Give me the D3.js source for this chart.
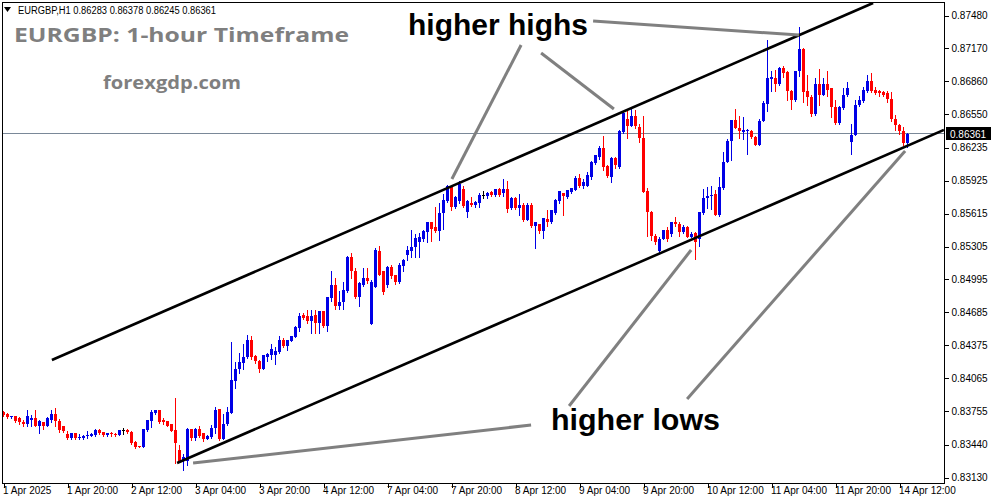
<!DOCTYPE html>
<html><head><meta charset="utf-8">
<script src="https://cdn.jsdelivr.net/npm/d3@7/dist/d3.min.js"></script>
<style>html,body{margin:0;padding:0;background:#fff;} svg{display:block;}</style>
</head><body>
<svg id="c" width="991" height="501"></svg>
<script>
// ---------- data ----------
const symbolName = "EURGBP,H1";
const chartTitle = "EURGBP: 1-hour Timeframe";
const siteName = "forexgdp.com";
const xTickBars = [0,16,32,48,64,80,96,112,128,144,160,176,192,208,224];
const xTickLabels = ["1 Apr 2025","1 Apr 20:00","2 Apr 12:00","3 Apr 04:00","3 Apr 20:00","4 Apr 12:00","7 Apr 04:00","7 Apr 20:00","8 Apr 12:00","9 Apr 04:00","9 Apr 20:00","10 Apr 12:00","11 Apr 04:00","11 Apr 20:00","14 Apr 12:00"];
const yTickValues = [0.87480,0.87170,0.86860,0.86550,0.86235,0.85925,0.85615,0.85305,0.84995,0.84685,0.84375,0.84065,0.83755,0.83440,0.83130];

const openP = [
0.83746,0.83732,0.83701,0.83713,0.83688,0.83657,0.83638,0.83669,0.83688,0.83612,
0.83657,0.83619,0.83669,0.83732,0.83663,0.83612,0.83544,0.83503,0.83550,0.83500,
0.83506,0.83519,0.83525,0.83532,0.83575,0.83556,0.83532,0.83550,0.83544,0.83532,
0.83575,0.83575,0.83563,0.83462,0.83431,0.83419,0.83581,0.83659,0.83738,0.83763,
0.83675,0.83663,0.83631,0.83575,0.83393,0.83287,0.83287,0.83588,0.83500,0.83591,
0.83547,0.83491,0.83509,0.83597,0.83772,0.83497,0.83635,0.83741,0.84043,0.84150,
0.84212,0.84269,0.84427,0.84278,0.84231,0.84156,0.84269,0.84288,0.84288,0.84307,
0.84420,0.84370,0.84413,0.84457,0.84533,0.84658,0.84646,0.84608,0.84658,0.84583,
0.84693,0.84561,0.84818,0.84938,0.84749,0.84780,0.84890,0.85204,0.85079,0.84834,
0.84947,0.85004,0.84577,0.84928,0.85267,0.85070,0.84938,0.85110,0.85032,0.84969,
0.85126,0.85229,0.85267,0.85305,0.85349,0.85377,0.85440,0.85531,0.85487,0.85455,
0.85619,0.85732,0.85870,0.85675,0.85738,0.85845,0.85628,0.85719,0.85697,0.85713,
0.85788,0.85776,0.85815,0.85794,0.85845,0.85807,0.85851,0.85669,0.85757,0.85669,
0.85694,0.85556,0.85694,0.85500,0.85518,0.85449,0.85568,0.85531,0.85625,0.85732,
0.85807,0.85773,0.85817,0.85841,0.85948,0.85873,0.85879,0.85955,0.86093,0.86143,
0.86237,0.86061,0.85961,0.86134,0.86049,0.86381,0.86507,0.86444,0.86538,0.86432,
0.86331,0.85829,0.85628,0.85408,0.85258,0.85377,0.85465,0.85421,0.85534,0.85521,
0.85446,0.85484,0.85396,0.85434,0.85377,0.85622,0.85766,0.85779,0.85804,0.85597,
0.85854,0.86099,0.86294,0.86494,0.86425,0.86387,0.86390,0.86397,0.86334,0.86259,
0.86491,0.86648,0.86880,0.86893,0.86837,0.86987,0.86950,0.86767,0.86680,0.86956,
0.87169,0.86767,0.86711,0.86548,0.86837,0.86736,0.86837,0.86793,0.86623,0.86466,
0.86611,0.86730,0.86291,0.86359,0.86636,0.86673,0.86767,0.86862,0.86774,0.86767,
0.86755,0.86748,0.86698,0.86510,0.86447,0.86397,0.86283];

const highP = [
0.83760,0.83741,0.83713,0.83713,0.83701,0.83669,0.83763,0.83720,0.83763,0.83675,
0.83657,0.83701,0.83763,0.83789,0.83682,0.83612,0.83569,0.83553,0.83550,0.83537,
0.83532,0.83569,0.83550,0.83588,0.83588,0.83563,0.83553,0.83563,0.83550,0.83575,
0.83600,0.83588,0.83569,0.83475,0.83431,0.83588,0.83675,0.83763,0.83769,0.83763,
0.83688,0.83663,0.83631,0.83877,0.83437,0.83349,0.83600,0.83588,0.83600,0.83616,
0.83553,0.83528,0.83628,0.83798,0.83779,0.83729,0.83792,0.84408,0.84219,0.84300,
0.84389,0.84470,0.84464,0.84288,0.84238,0.84288,0.84300,0.84389,0.84357,0.84464,
0.84439,0.84420,0.84464,0.84558,0.84677,0.84677,0.84709,0.84709,0.84709,0.84702,
0.84702,0.84834,0.85070,0.85010,0.84890,0.84969,0.85217,0.85242,0.85104,0.84972,
0.85098,0.85098,0.84985,0.85292,0.85311,0.85079,0.85126,0.85135,0.85041,0.85154,
0.85192,0.85314,0.85462,0.85424,0.85430,0.85465,0.85540,0.85540,0.85681,0.85713,
0.85801,0.85883,0.85879,0.85785,0.85926,0.85870,0.85747,0.85769,0.85733,0.85813,
0.85832,0.85818,0.85827,0.85851,0.85856,0.85945,0.85920,0.85771,0.85771,0.85801,
0.85710,0.85713,0.85713,0.85536,0.85521,0.85578,0.85650,0.85650,0.85750,0.85827,
0.85810,0.85841,0.85860,0.85973,0.85986,0.85945,0.86002,0.86114,0.86171,0.86249,
0.86350,0.86068,0.86150,0.86152,0.86406,0.86582,0.86582,0.86620,0.86588,0.86457,
0.86538,0.85860,0.85641,0.85418,0.85399,0.85465,0.85490,0.85540,0.85584,0.85534,
0.85503,0.85496,0.85446,0.85446,0.85634,0.85848,0.85867,0.85879,0.85835,0.85955,
0.86199,0.86319,0.86494,0.86595,0.86538,0.86529,0.86407,0.86402,0.86341,0.86501,
0.86673,0.87251,0.86962,0.86969,0.86993,0.87006,0.86956,0.86774,0.86962,0.87376,
0.87174,0.86918,0.86730,0.86887,0.86974,0.86893,0.86956,0.86797,0.86680,0.86628,
0.86799,0.86856,0.86460,0.86680,0.86724,0.86805,0.86924,0.86937,0.86805,0.86774,
0.86767,0.86767,0.86761,0.86541,0.86454,0.86428,0.86378];

const lowP = [
0.83713,0.83694,0.83688,0.83657,0.83638,0.83612,0.83612,0.83612,0.83612,0.83550,
0.83588,0.83612,0.83650,0.83619,0.83563,0.83556,0.83494,0.83497,0.83494,0.83494,
0.83494,0.83506,0.83519,0.83525,0.83544,0.83525,0.83525,0.83525,0.83525,0.83532,
0.83544,0.83550,0.83443,0.83406,0.83415,0.83419,0.83569,0.83607,0.83732,0.83644,
0.83631,0.83612,0.83569,0.83271,0.83274,0.83205,0.83243,0.83481,0.83481,0.83515,
0.83478,0.83491,0.83503,0.83553,0.83484,0.83491,0.83628,0.83735,0.83968,0.84112,
0.84150,0.84256,0.84250,0.84206,0.84125,0.84150,0.84231,0.84250,0.84194,0.84300,
0.84357,0.84332,0.84413,0.84451,0.84514,0.84620,0.84589,0.84495,0.84495,0.84495,
0.84545,0.84514,0.84796,0.84718,0.84718,0.84718,0.84881,0.85010,0.84821,0.84749,
0.84935,0.84966,0.84577,0.84928,0.85032,0.84862,0.84928,0.85013,0.84956,0.84959,
0.85079,0.85179,0.85204,0.85210,0.85204,0.85361,0.85345,0.85361,0.85443,0.85367,
0.85471,0.85726,0.85644,0.85663,0.85719,0.85681,0.85587,0.85688,0.85681,0.85681,
0.85757,0.85762,0.85785,0.85785,0.85785,0.85776,0.85632,0.85658,0.85658,0.85606,
0.85545,0.85554,0.85487,0.85292,0.85430,0.85386,0.85500,0.85526,0.85613,0.85713,
0.85601,0.85766,0.85809,0.85835,0.85867,0.85860,0.85870,0.85945,0.86086,0.86131,
0.86030,0.85958,0.85910,0.86040,0.86042,0.86375,0.86331,0.86437,0.86425,0.86287,
0.85816,0.85402,0.85364,0.85333,0.85248,0.85371,0.85358,0.85408,0.85496,0.85402,
0.85436,0.85390,0.85396,0.85189,0.85308,0.85613,0.85672,0.85660,0.85597,0.85590,
0.85848,0.86099,0.86124,0.86419,0.86325,0.86317,0.86176,0.86326,0.86256,0.86256,
0.86485,0.86585,0.86767,0.86767,0.86830,0.86899,0.86680,0.86598,0.86675,0.86912,
0.86667,0.86635,0.86535,0.86541,0.86635,0.86730,0.86724,0.86522,0.86460,0.86463,
0.86604,0.86724,0.86178,0.86353,0.86630,0.86667,0.86761,0.86755,0.86742,0.86724,
0.86724,0.86667,0.86491,0.86404,0.86367,0.86265,0.86245];

const closeP = [
0.83722,0.83701,0.83713,0.83659,0.83650,0.83631,0.83713,0.83688,0.83619,0.83663,
0.83619,0.83688,0.83725,0.83663,0.83581,0.83569,0.83500,0.83550,0.83500,0.83513,
0.83519,0.83532,0.83537,0.83575,0.83550,0.83532,0.83550,0.83537,0.83532,0.83575,
0.83575,0.83556,0.83456,0.83419,0.83415,0.83588,0.83675,0.83744,0.83763,0.83657,
0.83650,0.83619,0.83569,0.83456,0.83287,0.83325,0.83588,0.83500,0.83588,0.83522,
0.83491,0.83522,0.83597,0.83766,0.83491,0.83635,0.83748,0.84050,0.84156,0.84219,
0.84269,0.84427,0.84269,0.84225,0.84156,0.84281,0.84294,0.84344,0.84319,0.84420,
0.84370,0.84420,0.84464,0.84545,0.84652,0.84633,0.84608,0.84646,0.84583,0.84696,
0.84555,0.84827,0.84938,0.84749,0.84787,0.84897,0.85204,0.85070,0.84834,0.84959,
0.85004,0.84976,0.84969,0.85273,0.85041,0.84872,0.85110,0.85023,0.84969,0.85135,
0.85179,0.85273,0.85305,0.85386,0.85392,0.85449,0.85531,0.85471,0.85449,0.85625,
0.85744,0.85877,0.85675,0.85769,0.85895,0.85691,0.85732,0.85694,0.85722,0.85788,
0.85788,0.85807,0.85794,0.85845,0.85794,0.85851,0.85660,0.85757,0.85669,0.85694,
0.85556,0.85694,0.85500,0.85531,0.85449,0.85575,0.85531,0.85644,0.85744,0.85826,
0.85780,0.85835,0.85854,0.85948,0.85873,0.85917,0.85980,0.86099,0.86162,0.86237,
0.86049,0.85967,0.86137,0.86068,0.86388,0.86564,0.86437,0.86538,0.86437,0.86325,
0.85816,0.85628,0.85402,0.85345,0.85377,0.85465,0.85377,0.85534,0.85515,0.85446,
0.85484,0.85396,0.85427,0.85345,0.85628,0.85766,0.85785,0.85792,0.85597,0.85861,
0.86099,0.86294,0.86494,0.86419,0.86394,0.86402,0.86404,0.86334,0.86259,0.86491,
0.86654,0.86887,0.86899,0.86837,0.86987,0.86943,0.86767,0.86680,0.86956,0.87169,
0.86761,0.86711,0.86548,0.86837,0.86736,0.86837,0.86780,0.86617,0.86466,0.86623,
0.86736,0.86799,0.86359,0.86642,0.86686,0.86780,0.86862,0.86767,0.86748,0.86748,
0.86736,0.86692,0.86504,0.86447,0.86397,0.86277,0.86361];

// channel trendlines: [barIndex, price]
const channelUpper = [[12.1, 0.84236], [217.4, 0.87598]];
const channelLower = [[43.4, 0.83266], [235.1, 0.86402]];
// annotation pointer lines: [[barIndex, price], [barIndex, price]]
const highsLabel = "higher highs";
const lowsLabel = "higher lows";
const highsPointers = [
  [[129.4, 0.87202], [112.1, 0.85940]],
  [[134.4, 0.87127], [152.6, 0.86600]],
  [[147.4, 0.87428], [198.9, 0.87296]]
];
const lowsPointers = [
  [[131.9, 0.83624], [47.4, 0.83266]],
  [[141.4, 0.83803], [171.9, 0.85272]],
  [[170.9, 0.83869], [225.4, 0.86204]]
];

// ---------- chart ----------
const svg = d3.select("#c");
const plot = {l: 2, t: 2, r: 944, b: 483};
const n = closeP.length;
const x = d3.scaleLinear().domain([0, n - 1]).range([3.5, 3.5 + 4 * (n - 1)]);
const y = d3.scaleLinear().domain([0.8313, 0.8748]).range([477.5, 15.5]);
const fmt = d3.format(".5f");
const upColor = "#0000e6", downColor = "#ff0000", flatColor = "#000000";

svg.append("rect").attr("width", 991).attr("height", 501).attr("fill", "#fff");

svg.append("defs").append("clipPath").attr("id", "clip")
  .append("rect").attr("x", plot.l + 1).attr("y", plot.t + 1)
  .attr("width", plot.r - plot.l - 1).attr("height", plot.b - plot.t - 1);

const bars = d3.range(n).map(i => ({i, o: openP[i], h: highP[i], l: lowP[i], c: closeP[i]}));
const col = d => d.c > d.o ? upColor : (d.c < d.o ? downColor : flatColor);

// current price line
const lastClose = closeP[n - 1];
const py = Math.round(y(lastClose)) - 0.5;
svg.append("line").attr("x1", plot.l).attr("x2", plot.r).attr("y1", py).attr("y2", py)
  .attr("stroke", "#7a8898").attr("stroke-width", 1).attr("shape-rendering", "crispEdges");

const g = svg.append("g").attr("clip-path", "url(#clip)");

// candles
const cg = g.append("g").attr("shape-rendering", "crispEdges");
cg.selectAll("line.w").data(bars).join("line").attr("class", "w")
  .attr("x1", d => x(d.i)).attr("x2", d => x(d.i))
  .attr("y1", d => Math.round(y(d.h))).attr("y2", d => Math.round(y(d.l)) + 1)
  .attr("stroke", col).attr("stroke-width", 1);
cg.selectAll("rect.b").data(bars).join("rect").attr("class", "b")
  .attr("x", d => x(d.i) - 1.5).attr("width", 3)
  .attr("y", d => Math.round(y(Math.max(d.o, d.c))))
  .attr("height", d => Math.max(1, Math.round(y(Math.min(d.o, d.c))) - Math.round(y(Math.max(d.o, d.c)))))
  .attr("fill", col);

// channel
const lineGen = d3.line().x(p => x(p[0])).y(p => y(p[1]));
[channelUpper, channelLower].forEach(c => {
  g.append("path").attr("d", lineGen(c)).attr("fill", "none")
    .attr("stroke", "#000").attr("stroke-width", 2.6);
});

// annotation pointers
[...highsPointers, ...lowsPointers].forEach(p => {
  g.append("path").attr("d", lineGen(p)).attr("fill", "none")
    .attr("stroke", "#808080").attr("stroke-width", 3);
});

// frame
svg.append("rect").attr("x", plot.l + 0.5).attr("y", plot.t + 0.5)
  .attr("width", plot.r - plot.l).attr("height", plot.b - plot.t)
  .attr("fill", "none").attr("stroke", "#000").attr("stroke-width", 1).attr("shape-rendering", "crispEdges");

// y axis
const yAxis = d3.axisRight(y).tickValues(yTickValues).tickFormat(fmt).tickSize(4).tickPadding(3);
const ya = svg.append("g").attr("transform", `translate(${plot.r + 0.5},0)`).call(yAxis);
ya.select(".domain").remove();
ya.selectAll("line").attr("stroke", "#000").attr("shape-rendering", "crispEdges");
ya.selectAll("text").attr("font-family", "Liberation Sans, Arial, sans-serif").attr("font-size", 10).attr("fill", "#000");

// x axis
const xAxis = d3.axisBottom(x).tickValues(xTickBars).tickFormat((d, i) => xTickLabels[i]).tickSize(4);
const xa = svg.append("g").attr("transform", `translate(0,${plot.b + 0.5})`).call(xAxis);
xa.select(".domain").remove();
xa.selectAll("line").attr("stroke", "#000").attr("shape-rendering", "crispEdges");
xa.selectAll("text").attr("text-anchor", "start").attr("x", -1).attr("y", 10).attr("dy", 0)
  .attr("font-family", "Liberation Sans, Arial, sans-serif").attr("font-size", 10).attr("fill", "#000");

// current price label
svg.append("rect").attr("x", plot.r + 2).attr("y", py - 6.5).attr("width", 991 - plot.r - 2).attr("height", 13).attr("fill", "#000");
svg.append("text").attr("x", plot.r + 6).attr("y", py + 4)
  .attr("font-family", "Liberation Sans, Arial, sans-serif").attr("font-size", 10).attr("fill", "#fff")
  .text(fmt(lastClose));

// header
svg.append("path").attr("d", "M4,7 L11,7 L7.5,12 Z").attr("fill", "#000");
svg.append("text").attr("x", 18).attr("y", 13.5)
  .attr("font-family", "Liberation Sans, Arial, sans-serif").attr("font-size", 10).attr("fill", "#000")
  .attr("textLength", 198).attr("lengthAdjust", "spacingAndGlyphs")
  .text(`${symbolName}  ${fmt(openP[n-1])} ${fmt(highP[n-1])} ${fmt(lowP[n-1])} ${fmt(closeP[n-1])}`);

// titles
svg.append("text").attr("x", 14).attr("y", 42)
  .attr("font-family", "Open Sans, sans-serif").attr("font-weight", "bold").attr("font-size", 20)
  .attr("fill", "#7f7f7f").attr("textLength", 335).attr("lengthAdjust", "spacingAndGlyphs")
  .text(chartTitle);
svg.append("text").attr("x", 103).attr("y", 89)
  .attr("font-family", "Open Sans, sans-serif").attr("font-weight", "bold").attr("font-size", 18)
  .attr("fill", "#7f7f7f").attr("textLength", 138).attr("lengthAdjust", "spacingAndGlyphs")
  .text(siteName);

// annotation labels
svg.append("text").attr("x", 408).attr("y", 35)
  .attr("font-family", "Liberation Sans, Arial, sans-serif").attr("font-weight", "bold").attr("font-size", 29)
  .attr("fill", "#000").attr("textLength", 180).attr("lengthAdjust", "spacingAndGlyphs")
  .text(highsLabel);
svg.append("text").attr("x", 551).attr("y", 430)
  .attr("font-family", "Liberation Sans, Arial, sans-serif").attr("font-weight", "bold").attr("font-size", 29)
  .attr("fill", "#000").attr("textLength", 169).attr("lengthAdjust", "spacingAndGlyphs")
  .text(lowsLabel);
</script>
</body></html>
